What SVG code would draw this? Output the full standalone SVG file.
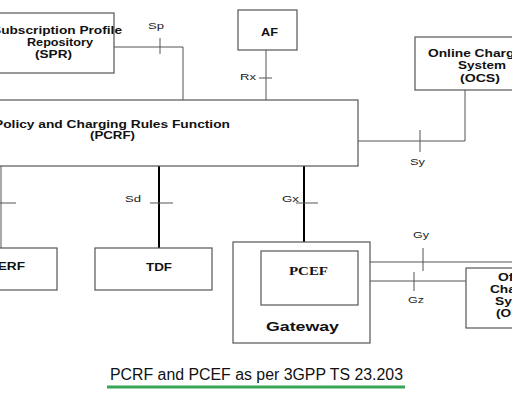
<svg xmlns="http://www.w3.org/2000/svg" width="512" height="404" viewBox="0 0 512 404">
<style>
.box{fill:#fff;stroke:#555;stroke-width:1.2}
.ln{fill:none;stroke:#555;stroke-width:1}
.thk{fill:none;stroke:#000;stroke-width:2}
.t{font-family:"Liberation Sans",Arial,sans-serif;font-weight:bold;font-size:11px;fill:#111}
.lb{font-family:"Liberation Sans",Arial,sans-serif;font-size:9px;fill:#222}
.sf{font-family:"Liberation Serif","Times New Roman",serif;font-weight:bold;font-size:12px;fill:#111}
</style>
<rect width="512" height="404" fill="#fff"/>
<g id="connectors">
  <polyline class="ln" points="114,47 183,47 183,100"/>
  <line class="ln" x1="160" y1="38" x2="160" y2="54"/>
  <text class="lb" x="148" y="29" textLength="16" lengthAdjust="spacingAndGlyphs">Sp</text>
  <line class="ln" x1="266" y1="50" x2="266" y2="100"/>
  <line class="ln" x1="259" y1="78" x2="272" y2="78"/>
  <text class="lb" x="240" y="80" textLength="16" lengthAdjust="spacingAndGlyphs">Rx</text>
  <polyline class="ln" points="465,90 465,141 358,141"/>
  <line class="ln" x1="420" y1="130" x2="420" y2="152"/>
  <text class="lb" x="410" y="165" textLength="15" lengthAdjust="spacingAndGlyphs">Sy</text>
  <line class="ln" x1="1" y1="166" x2="1" y2="248"/>
  <line class="ln" x1="0" y1="203" x2="16" y2="203"/>
  <line class="thk" x1="159" y1="166" x2="159" y2="248"/>
  <line class="ln" x1="150" y1="203" x2="173" y2="203"/>
  <text class="lb" x="125" y="202" textLength="16" lengthAdjust="spacingAndGlyphs">Sd</text>
  <line class="thk" x1="304" y1="166" x2="304" y2="251"/>
  <line class="ln" x1="296" y1="203" x2="318" y2="203"/>
  <text class="lb" x="282" y="202" textLength="17" lengthAdjust="spacingAndGlyphs">Gx</text>
  <line class="ln" x1="358" y1="262" x2="512" y2="262"/>
  <line class="ln" x1="423" y1="248" x2="423" y2="271"/>
  <text class="lb" x="413" y="238" textLength="16" lengthAdjust="spacingAndGlyphs">Gy</text>
  <line class="ln" x1="358" y1="281" x2="466" y2="281"/>
  <line class="ln" x1="414" y1="272" x2="414" y2="291"/>
  <text class="lb" x="408" y="303" textLength="16" lengthAdjust="spacingAndGlyphs">Gz</text>
</g>
<g id="spr">
  <rect class="box" x="-10" y="13" width="124" height="60"/>
  <text class="t" x="-8" y="34" textLength="130" lengthAdjust="spacingAndGlyphs">Subscription Profile</text>
  <text class="t" x="27" y="46" textLength="66" lengthAdjust="spacingAndGlyphs">Repository</text>
  <text class="t" x="35" y="58" textLength="37" lengthAdjust="spacingAndGlyphs">(SPR)</text>
</g>
<g id="af">
  <rect class="box" x="238" y="10" width="59" height="40"/>
  <text class="t" x="261" y="36" textLength="17" lengthAdjust="spacingAndGlyphs">AF</text>
</g>
<g id="ocs">
  <rect class="box" x="415" y="37" width="110" height="53"/>
  <text class="t" x="428" y="57" textLength="107" lengthAdjust="spacingAndGlyphs">Online Charging</text>
  <text class="t" x="458" y="69" textLength="48" lengthAdjust="spacingAndGlyphs">System</text>
  <text class="t" x="460" y="82" textLength="40" lengthAdjust="spacingAndGlyphs">(OCS)</text>
</g>
<g id="pcrf">
  <rect class="box" x="-10" y="100" width="368" height="66"/>
  <text class="t" x="-6" y="128" textLength="236" lengthAdjust="spacingAndGlyphs">Policy and Charging Rules Function</text>
  <text class="t" x="90" y="139" textLength="45" lengthAdjust="spacingAndGlyphs">(PCRF)</text>
</g>
<g id="bberf">
  <rect class="box" x="-10" y="248" width="67" height="42"/>
  <text class="t" x="-22" y="270" textLength="47" lengthAdjust="spacingAndGlyphs">BBERF</text>
</g>
<g id="tdf">
  <rect class="box" x="95" y="248" width="117" height="42"/>
  <text class="t" x="146" y="271" textLength="26" lengthAdjust="spacingAndGlyphs">TDF</text>
</g>
<g id="gateway">
  <rect class="box" x="233" y="242" width="137" height="101"/>
  <text class="t" x="266" y="331" style="font-size:13px" textLength="73" lengthAdjust="spacingAndGlyphs">Gateway</text>
</g>
<g id="pcef">
  <rect class="box" x="261" y="251" width="97" height="54"/>
  <text class="sf" x="289" y="275" textLength="39" lengthAdjust="spacingAndGlyphs">PCEF</text>
</g>
<g id="ofcs">
  <rect class="box" x="466" y="268" width="60" height="60"/>
  <text class="t" x="498" y="281" textLength="44" lengthAdjust="spacingAndGlyphs">Offline</text>
  <text class="t" x="490" y="293" textLength="60" lengthAdjust="spacingAndGlyphs">Charging</text>
  <text class="t" x="495" y="305" textLength="49" lengthAdjust="spacingAndGlyphs">System</text>
  <text class="t" x="496" y="317" textLength="47" lengthAdjust="spacingAndGlyphs">(OFCS)</text>
</g>
<g id="caption">
  <text x="110" y="380" style="font-family:'Liberation Sans',Arial,sans-serif;font-size:16px;fill:#111" textLength="293" lengthAdjust="spacingAndGlyphs">PCRF and PCEF as per 3GPP TS 23.203</text>
  <rect x="107" y="385.5" width="298" height="3" fill="#3aa655"/>
</g>
</svg>
